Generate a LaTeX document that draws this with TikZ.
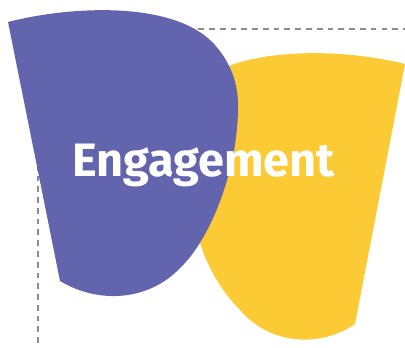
\documentclass[tikz,border=0pt]{standalone}
\usepackage{fontspec}
\setmainfont{Fira Sans}
\definecolor{blobpurple}{HTML}{6264AD}
\definecolor{blobyellow}{HTML}{FBCA35}
\definecolor{guidegray}{HTML}{8C8C8C}

\begin{document}
\begin{tikzpicture}[x=0.03cm,y=-0.03cm,
    guide/.style={draw=guidegray,line width=0.9pt,dash pattern=on 4.9pt off 4.3pt},
    title/.style={text=white,inner sep=0pt,anchor=base,
        font=\bfseries\fontsize{40}{40}\selectfont}]
    \useasboundingbox (0,0) rectangle (405,347);
    \coordinate (corner) at (38,29);
    \coordinate (lowend) at (38,343);
    \coordinate (rightend) at (405,29);
    \draw[guide] (lowend) -- (corner) -- (rightend);
    % yellow blob behind
    \fill[blobyellow] (224,68) .. controls (265,50) and (340,48) .. (405,64)
    -- (355,324) .. controls (320,348) and (270,345) .. (240,310)
    .. controls (215,285) and (190,240) .. (190,180)
    .. controls (190,120) and (205,80) .. (224,68) -- cycle;
    % purple blob in front
    \fill[blobpurple] (8,22) .. controls (70,6) and (175,0) .. (215,45)
    .. controls (235,68) and (238,90) .. (238,107)
    .. controls (238,170) and (210,240) .. (180,268)
    .. controls (150,300) and (100,305) .. (60,281) -- cycle;
    \node[title] (label) at (203.5,177) {Engagement};
\end{tikzpicture}
\end{document}
